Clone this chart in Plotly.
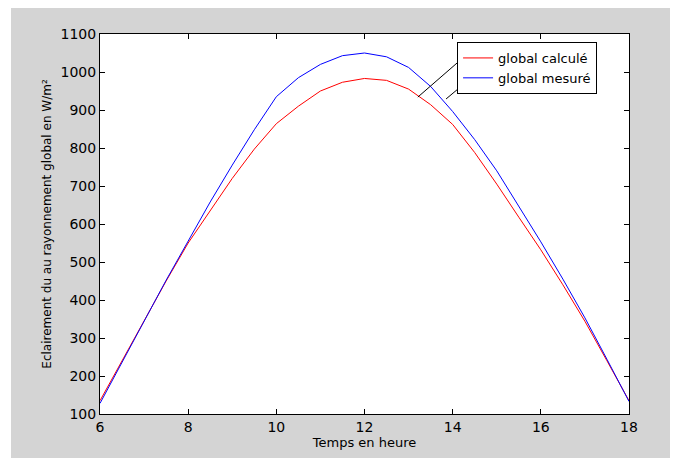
import plotly.graph_objects as go

hours = [6, 6.5, 7, 7.5, 8, 8.5, 9, 9.5, 10, 10.5, 11, 11.5, 12, 12.5, 13, 13.5, 14, 14.5, 15, 15.5, 16, 16.5, 17, 17.5, 18]
global_calcule = [135, 240, 345, 450, 550, 635, 720, 797, 864, 910, 950, 973, 983, 978, 955, 914, 862, 788, 705, 618, 532, 440, 344, 240, 135]
global_mesure = [128, 237, 345, 452, 555, 658, 755, 848, 935, 985, 1020, 1043, 1050, 1040, 1012, 962, 896, 822, 740, 648, 553, 455, 353, 244, 133]

x_ticks = [6, 8, 10, 12, 14, 16, 18]
y_ticks = [100, 200, 300, 400, 500, 600, 700, 800, 900, 1000, 1100]

font = "DejaVu Sans, Arial, sans-serif"

fig = go.Figure()
fig.add_trace(go.Scatter(x=hours, y=global_calcule, mode="lines", name="global calculé",
                         line=dict(color="#ff0000", width=1)))
fig.add_trace(go.Scatter(x=hours, y=global_mesure, mode="lines", name="global mesuré",
                         line=dict(color="#0000ff", width=1)))

# pointer lines from legend to curves
fig.add_shape(type="line", xref="x", yref="y", x0=14.39, y0=1053, x1=13.21, y1=934,
              line=dict(color="black", width=1))
fig.add_shape(type="line", xref="x", yref="y", x0=14.58, y0=1000, x1=13.85, y1=929,
              line=dict(color="black", width=1))

# white strip at the left of the gray figure area
fig.add_shape(type="rect", xref="paper", yref="paper", x0=-0.2, x1=-0.1682, y0=-0.2, y1=1.2,
              fillcolor="white", line=dict(width=0), layer="above")

axis_common = dict(showline=True, linecolor="black", linewidth=1, mirror="ticks",
                   ticks="inside", ticklen=5, tickcolor="black", showgrid=False, zeroline=False,
                   tickfont=dict(family=font, size=14, color="black"))

fig.update_xaxes(range=[6, 18], tickvals=x_ticks, ticktext=[str(v) for v in x_ticks],
                 title=dict(text="Temps en heure", font=dict(family=font, size=13, color="black"), standoff=2),
                 **axis_common)
fig.update_yaxes(range=[100, 1100], tickvals=y_ticks, ticktext=[str(v) for v in y_ticks],
                 title=dict(text="Eclairement du au rayonnement global en W/m²",
                            font=dict(family=font, size=12, color="black"), standoff=6),
                 **axis_common)

fig.update_layout(
    width=670, height=450,
    margin=dict(l=92, r=49, t=26, b=44),
    paper_bgcolor="#d4d4d4",
    plot_bgcolor="white",
    showlegend=True,
    legend=dict(x=0.675, y=0.979, xanchor="left", yanchor="top",
                bgcolor="white", bordercolor="black", borderwidth=1,
                font=dict(family=font, size=13, color="black"),
                itemwidth=30, tracegroupgap=0),
)

fig.write_html("out.html")
